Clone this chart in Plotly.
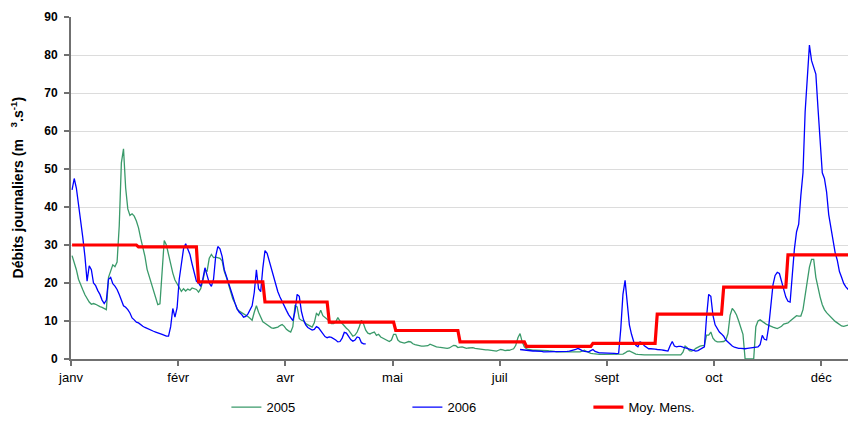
import plotly.graph_objects as go

# Daily discharge (m3/s), one value per day of the year
debit_2005 = [
    27.2, 25.5, 23.5, 21, 19.8, 18.2, 16.9, 15.8, 15, 14.4,
    14.6, 14.4, 14, 13.8, 13.6, 13.4, 13, 21.5, 23.2, 24.8,
    24.3, 25.5, 35, 51.6, 55.3, 45, 39.5, 37.8, 38.2, 37.6,
    36.3, 34.5, 31.8, 29.5, 27, 23.6, 21.8, 19.8, 18, 16.2,
    14.3, 14.5, 24, 31.2, 30, 27.3, 24.5, 22.6, 20.8, 19.8,
    19, 17.8, 18.5, 17.9, 18.4, 18.1, 18.7, 18.5, 18.3, 17.6,
    18.5, 20.5, 23.3, 23.1, 26.5, 27.5, 26.7, 26.8, 26.7, 26.5,
    25.8, 23.1, 21.5, 19.5, 17.6, 15.8, 14.7, 13.2, 12.6, 12.3,
    11.8, 11.5, 11.2, 10.7, 10.2, 12.3, 14, 12.3, 10.8, 9.8,
    9.4, 9, 8.6, 8.2, 8.1, 8.2, 8.4, 8.8, 9.1, 8.6,
    7.8, 7.4, 7.1, 8.5, 14, 13.7, 10.6, 10.2, 10, 9.3,
    9, 8.7, 8.4, 9.5, 12, 11.5, 12.8, 11.4, 11, 10.5,
    10, 9.3, 9.3, 9.8, 10.9, 10, 9.3, 8.6, 8.1, 7.6,
    6.9, 6, 6.3, 7.1, 8.5, 10.2, 9.2, 7.6, 6.8, 6.6,
    6.9, 7.1, 6.2, 6.5, 5.8, 5.5, 5.1, 4.7, 4.6, 5,
    6.5, 6.5, 5, 4.5, 4.3, 4.2, 4.4, 4.6, 4.5, 4,
    3.8, 3.6, 3.5, 3.4, 3.4, 3.4, 3.5, 3.9, 3.6, 3.4,
    3.2, 3.1, 3, 3, 2.9, 2.8, 2.9, 3.2, 3.6, 3.5,
    3.0, 3.1, 3.2, 3.0, 2.8, 2.9, 3.0, 3.0, 2.8, 2.7,
    2.6, 2.5, 2.5, 2.4, 2.4, 2.3, 2.3, 2.2, 2.1, 2.3,
    2.5, 2.4, 2.2, 2.3, 2.3, 2.5, 2.7, 3.6, 5.6, 6.7,
    4.5, 3.2, 2.7, 2.5, 2.3, 2.3, 2.3, 2.3, 2.3, 2.3,
    2.2, 2.2, 2.2, 2.1, 2.1, 2.0, 1.9, 1.9, 1.8, 1.8,
    1.8, 1.8, 1.8, 1.8, 1.8, 1.8, 1.9, 1.9, 2.1, 2.3,
    2.0, 1.7, 1.5, 1.4, 1.3, 1.2, 1.2, 1.2, 1.2, 1.2,
    1.2, 1.2, 1.2, 1.2, 1.2, 1.2, 1.2, 1.3, 1.6, 2.0,
    2.1, 1.8, 1.5, 1.3, 1.2, 1.1, 1.1, 1.1, 1.1, 1.1,
    1.1, 1.1, 1.1, 1.1, 1.1, 1.1, 1.1, 1.1, 1.1, 1.1,
    1.1, 1.1, 1.1, 1.1, 1.1, 1.8, 3.4, 3.0, 2.2, 2.1,
    2.3, 2.8, 3.2, 3.4, 3.5, 3.6, 6.3, 6.3, 7.1, 5.5,
    4.8, 4.5, 4.5, 4.5, 4.6, 5, 6.7, 11.5, 13.3, 12.6,
    11.6, 10, 8.5, 6.5, 0, 0, 0, 0, 0, 8.5,
    10, 10.3, 10, 9.5, 9.1, 8.8, 8.6, 8.4, 8.2, 8.0,
    8.3, 8.6, 9.2, 9.4, 9.5, 10, 10.5, 11.1, 11.4, 11.3,
    11.3, 13, 17, 21.5, 24.2, 26.2, 26.2, 21.5, 18.5, 16.3,
    14.3, 13, 12.2, 11.6, 11, 10.5, 9.9, 9.5, 9.1, 8.7,
    8.6, 8.8, 8.9, 8.9, 9,
]

debit_2006 = [
    44.5, 47.5, 45, 41, 36, 32, 27, 20.5, 24.5, 23.5,
    20, 19.3, 18, 17, 15.5, 14.6, 15.5, 21, 21.5, 19.8,
    19.2, 18.3, 17, 15.2, 14, 13.6, 13, 12.1, 10.8, 10.3,
    9.7, 9.5, 9, 8.6, 8.3, 8, 7.7, 7.5, 7.3, 7.1,
    7, 6.7, 6.5, 6.2, 6, 6, 8.5, 13.3, 11, 13.5,
    21, 25, 29, 30.3, 28.8, 27.5, 25, 22.5, 20.5, 20,
    19.1, 21, 24, 22, 20, 19.1, 21, 27, 29.6, 29,
    27, 23.5, 21.8, 20.5, 18.8, 16.5, 14.7, 13.2, 12.3, 11.8,
    11, 11.2, 11.8, 12.8, 14, 17.5, 23.5, 18.5, 17.7, 24,
    28.5, 27.8, 25.8, 24, 21.5, 19.5, 17.7, 16.3, 15, 13.8,
    12.8, 11.7, 10.9, 10.1, 12.5, 17, 16.5, 12.5, 10.3, 9,
    8.3, 7.9, 7.6, 7.8, 8.5, 8.2, 7.5, 6.5, 5.9, 5.6,
    5.8, 5.7, 5.4, 5, 4.5, 4.6, 5.5, 7, 6.8, 6,
    5.1, 4.7, 5, 5.8, 5.6, 4.3, 4, 4,
] + [None] * 71 + [
    2.5, 2.4, 2.3, 2.3, 2.2, 2.2, 2.1, 2.1, 2.1, 2.0,
    2.0, 1.9, 1.9, 1.9, 1.9, 1.9, 1.9, 1.9, 1.9, 2.0,
    2.0, 2.0, 2.0, 2.1, 2.2, 2.3, 2.5, 2.8, 2.4, 2.2,
    2.0, 1.9, 1.9, 2.2, 2.5, 2.0, 1.7, 1.6, 1.6, 1.6,
    1.6, 1.5, 1.5, 1.5, 1.5, 1.4, 1.5, 8, 17, 20.7,
    14, 9, 6.5, 4.6, 3.6, 3.2, 4.5, 4.2, 3.5, 3.0,
    2.7, 2.7, 2.7, 2.6, 2.5, 2.5, 2.4, 2.3, 2.2, 2.1,
    3.5, 4.6, 3.4, 3.2, 3.3, 3.3, 3.1, 2.9, 2.7, 2.6,
    2.5, 2.3, 2.1, 2.2, 2.5, 2.8, 3.2, 11, 17, 16.5,
    11.5, 9, 8, 7.1, 6.6, 6, 5, 4.4, 3.8, 3.4,
    3.1, 2.9, 2.8, 2.8, 2.7, 2.7, 2.8, 2.9, 2.9, 3,
    3.1, 3.2, 3.8, 6.2, 5.2, 5, 8.5, 15, 19.5, 22,
    22.8, 22.5, 20.5, 18, 16.3, 15.2, 15, 22, 29, 33.5,
    35.5, 43, 49, 65, 74, 82.6, 78.5, 77, 75, 66,
    58, 49, 47.5, 44, 38, 34.5, 30.5, 28, 26, 23,
    21.5, 19.9, 19, 18.3, 17.5, 17,
]

# Monthly mean discharge and month lengths
moy_mens = [30.0, 29.5, 20.3, 15.0, 9.7, 7.5, 4.5, 3.3, 4.1, 11.8, 18.9, 27.4]
jours_mois = [31, 28, 31, 30, 31, 30, 31, 31, 30, 31, 30, 31]

# Axis tick labels (one every 50 days)
tick_jours = [0, 50, 100, 150, 200, 250, 300, 350]
tick_textes = ["janv", "févr", "avr", "mai", "juil", "sept", "oct", "déc"]

# Expand monthly means to one value per day
moy_journaliere = []
for valeur, n in zip(moy_mens, jours_mois):
    moy_journaliere += [valeur] * n

x_jours = [i + 0.5 for i in range(365)]

FONT = "Arial, 'Liberation Sans', sans-serif"

fig = go.Figure()
fig.add_trace(go.Scatter(x=x_jours, y=debit_2005, mode="lines", name="2005",
                         line=dict(color="#3a9a6a", width=1.3)))
fig.add_trace(go.Scatter(x=x_jours, y=debit_2006, mode="lines", name="2006",
                         line=dict(color="#0000ff", width=1.3)))
fig.add_trace(go.Scatter(x=x_jours, y=moy_journaliere, mode="lines", name="Moy. Mens.",
                         line=dict(color="#ff0000", width=3.2)))

fig.update_layout(
    width=848, height=425,
    margin=dict(l=71, r=0, t=17, b=66),
    paper_bgcolor="white", plot_bgcolor="white",
    font=dict(family=FONT, color="black"),
    showlegend=True,
    legend=dict(orientation="h", x=0.2, y=-0.141, xanchor="left", yanchor="middle",
                font=dict(size=13, family=FONT), entrywidth=136, entrywidthmode="pixels",
                bgcolor="rgba(0,0,0,0)"),
)

fig.update_xaxes(
    range=[0, 362.5], tickmode="array", tickvals=tick_jours, ticktext=tick_textes,
    showgrid=False, zeroline=False, showline=True, linecolor="#707070", linewidth=2,
    ticks="outside", ticklen=5, tickcolor="#707070", tickwidth=1.5,
    tickfont=dict(size=13, family=FONT),
)
fig.update_yaxes(
    range=[0, 90], dtick=10, showgrid=True, gridcolor="#dcdcdc", gridwidth=1,
    zeroline=False, showline=True, linecolor="#707070", linewidth=2,
    ticks="outside", ticklen=5, tickcolor="#707070", tickwidth=1.5,
    tickfont=dict(size=12, family=FONT, weight="bold"), ticklabelstandoff=4,
)

fig.add_annotation(
    text="Débits journaliers (m&nbsp;&nbsp;&nbsp;<sup>3</sup>.s<sup>-1</sup>)",
    xref="paper", yref="paper", x=-0.069, y=0.5, xanchor="center", yanchor="middle",
    textangle=-90, showarrow=False, font=dict(size=14, family=FONT, weight="bold"),
)

fig.write_html("out.html")
